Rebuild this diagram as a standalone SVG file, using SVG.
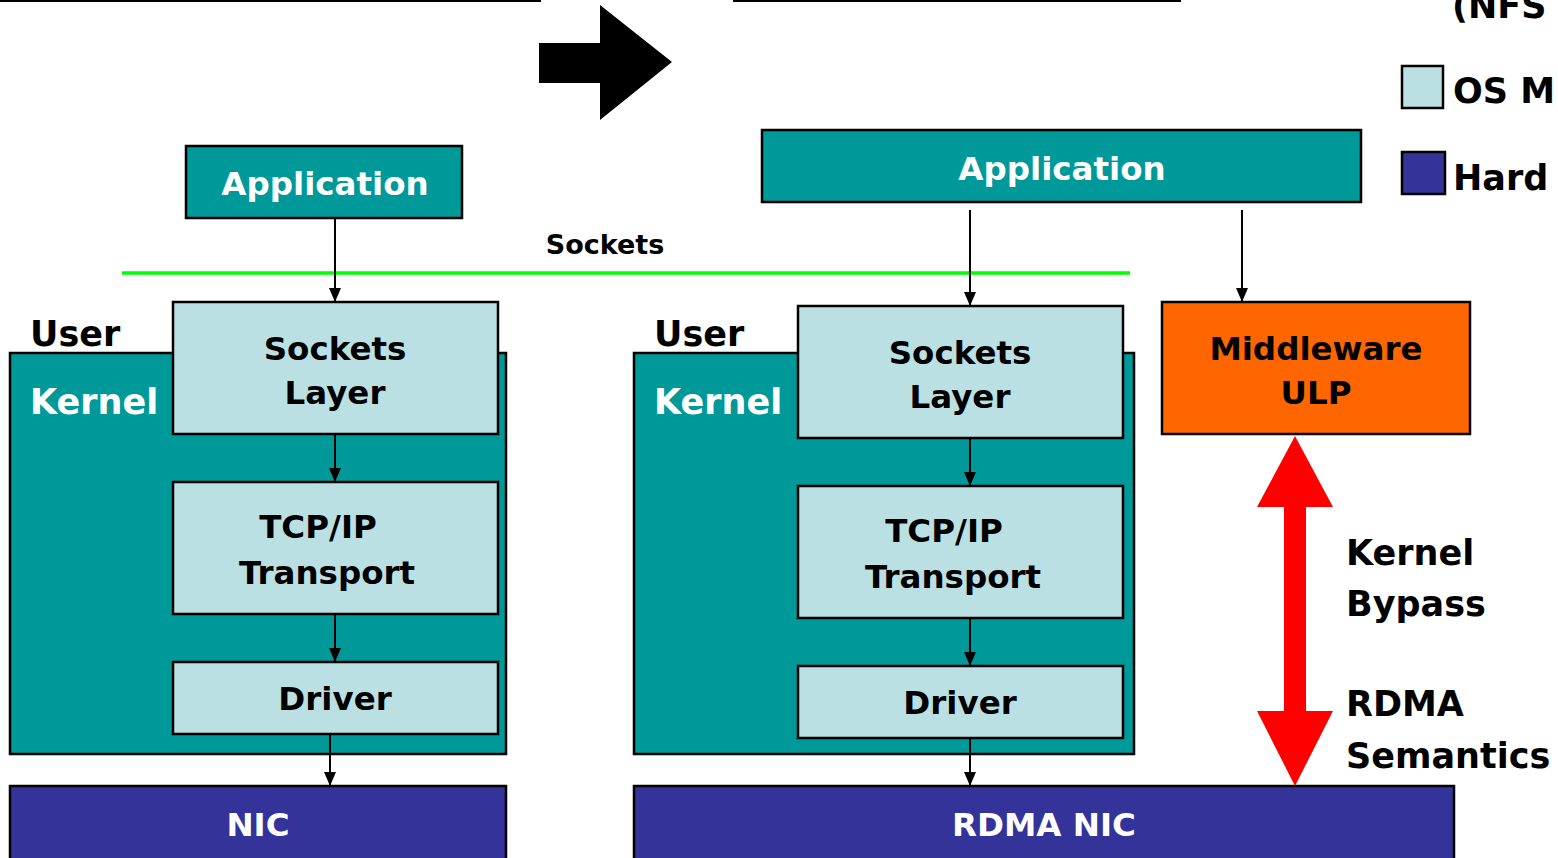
<svg xmlns="http://www.w3.org/2000/svg" width="1558" height="858" viewBox="0 0 1558 858">
  <style>
    text { font-family: "Comic Sans MS", "DejaVu Sans", sans-serif; font-weight: bold; }
    .teal { fill: #009999; stroke: #000; stroke-width: 2.5; }
    .os { fill: #BBE0E3; stroke: #000; stroke-width: 2.5; }
    .hw { fill: #333399; stroke: #000; stroke-width: 2.5; }
    .ulp { fill: #FF6600; stroke: #000; stroke-width: 2.5; }
    .w { fill: #fff; }
    .k { fill: #000; }
    .lbl { font-size: 32.5px; text-anchor: middle; }
    .big { font-size: 35px; }
    .conn { stroke: #000; stroke-width: 2; fill: none; marker-end: url(#tip); }
  </style>
  <defs>
    <marker id="tip" viewBox="0 0 14 12" refX="14" refY="6" markerWidth="14" markerHeight="12" markerUnits="userSpaceOnUse" orient="auto">
      <path d="M0,0 L14,6 L0,12 Z" fill="#000"/>
    </marker>
  </defs>
  <rect width="1558" height="858" fill="#fff"/>

  <!-- header rules and transition arrow -->
  <rect x="0" y="0" width="541" height="2" fill="#000"/>
  <rect x="733" y="0" width="448" height="2" fill="#000"/>
  <polygon points="539,43 600,43 600,5 672,62 600,120 600,83 539,83" fill="#000"/>

  <!-- legend -->
  <g id="legend">
    <text x="1452" y="18" class="big k">(NFS</text>
    <rect x="1402" y="66" width="41" height="42" class="os"/>
    <text x="1453" y="103" class="big k">OS M</text>
    <rect x="1402" y="152" width="43" height="42" class="hw"/>
    <text x="1453" y="190" class="big k">Hard</text>
  </g>

  <!-- sockets API boundary -->
  <line x1="122" y1="273" x2="1130" y2="273" stroke="#00FF00" stroke-width="3.5"/>
  <text x="605" y="254" font-size="27" text-anchor="middle" class="k">Sockets</text>

  <!-- left stack -->
  <g id="kernel-left">
    <rect x="10" y="353" width="496" height="401" class="teal"/>
    <text x="30" y="346" class="big k">User</text>
    <text x="30" y="414" class="big w">Kernel</text>
  </g>
  <g id="app-left">
    <rect x="186" y="146" width="276" height="72" class="teal"/>
    <text x="325" y="195" class="lbl w">Application</text>
  </g>
  <g id="sockets-left">
    <rect x="173" y="302" width="325" height="132" class="os"/>
    <text x="335" y="360" class="lbl k">Sockets</text>
    <text x="335" y="404" class="lbl k">Layer</text>
  </g>
  <g id="tcp-left">
    <rect x="173" y="482" width="325" height="132" class="os"/>
    <text x="318" y="538" class="lbl k">TCP/IP</text>
    <text x="327" y="584" class="lbl k">Transport</text>
  </g>
  <g id="driver-left">
    <rect x="173" y="662" width="325" height="72" class="os"/>
    <text x="335" y="710" class="lbl k">Driver</text>
  </g>
  <g id="nic-left">
    <rect x="10" y="786" width="496" height="80" class="hw"/>
    <text x="258" y="836" class="lbl w">NIC</text>
  </g>

  <!-- right stack -->
  <g id="kernel-right">
    <rect x="634" y="353" width="500" height="401" class="teal"/>
    <text x="654" y="346" class="big k">User</text>
    <text x="654" y="414" class="big w">Kernel</text>
  </g>
  <g id="app-right">
    <rect x="762" y="130" width="599" height="72" class="teal"/>
    <text x="1062" y="180" class="lbl w">Application</text>
  </g>
  <g id="sockets-right">
    <rect x="798" y="306" width="325" height="132" class="os"/>
    <text x="960" y="364" class="lbl k">Sockets</text>
    <text x="960" y="408" class="lbl k">Layer</text>
  </g>
  <g id="tcp-right">
    <rect x="798" y="486" width="325" height="132" class="os"/>
    <text x="944" y="542" class="lbl k">TCP/IP</text>
    <text x="953" y="588" class="lbl k">Transport</text>
  </g>
  <g id="driver-right">
    <rect x="798" y="666" width="325" height="72" class="os"/>
    <text x="960" y="714" class="lbl k">Driver</text>
  </g>
  <g id="ulp">
    <rect x="1162" y="302" width="308" height="132" class="ulp"/>
    <text x="1316" y="360" class="lbl k" font-size="31">Middleware</text>
    <text x="1316" y="404" class="lbl k">ULP</text>
  </g>
  <g id="rdma-nic">
    <rect x="634" y="786" width="820" height="80" class="hw"/>
    <text x="1044" y="836" class="lbl w">RDMA NIC</text>
  </g>

  <!-- bypass labels -->
  <g id="bypass-labels">
    <text x="1346" y="565" class="big k">Kernel</text>
    <text x="1346" y="616" class="big k">Bypass</text>
    <text x="1346" y="716" class="big k">RDMA</text>
    <text x="1346" y="768" class="big k">Semantics</text>
  </g>

  <!-- connectors -->
  <g id="connectors">
    <line x1="335" y1="218" x2="335" y2="302" class="conn"/>
    <line x1="335" y1="434" x2="335" y2="482" class="conn"/>
    <line x1="335" y1="614" x2="335" y2="662" class="conn"/>
    <line x1="330" y1="734" x2="330" y2="786" class="conn"/>
    <line x1="970" y1="210" x2="970" y2="306" class="conn"/>
    <line x1="970" y1="438" x2="970" y2="486" class="conn"/>
    <line x1="970" y1="618" x2="970" y2="666" class="conn"/>
    <line x1="970" y1="738" x2="970" y2="786" class="conn"/>
    <line x1="1242" y1="210" x2="1242" y2="302" class="conn"/>
    <!-- kernel-bypass double arrow -->
    <polygon points="1295,436 1333,507 1306,507 1306,711 1333,711 1295,786 1257,711 1284,711 1284,507 1257,507" fill="#FF0000"/>
  </g>
</svg>
